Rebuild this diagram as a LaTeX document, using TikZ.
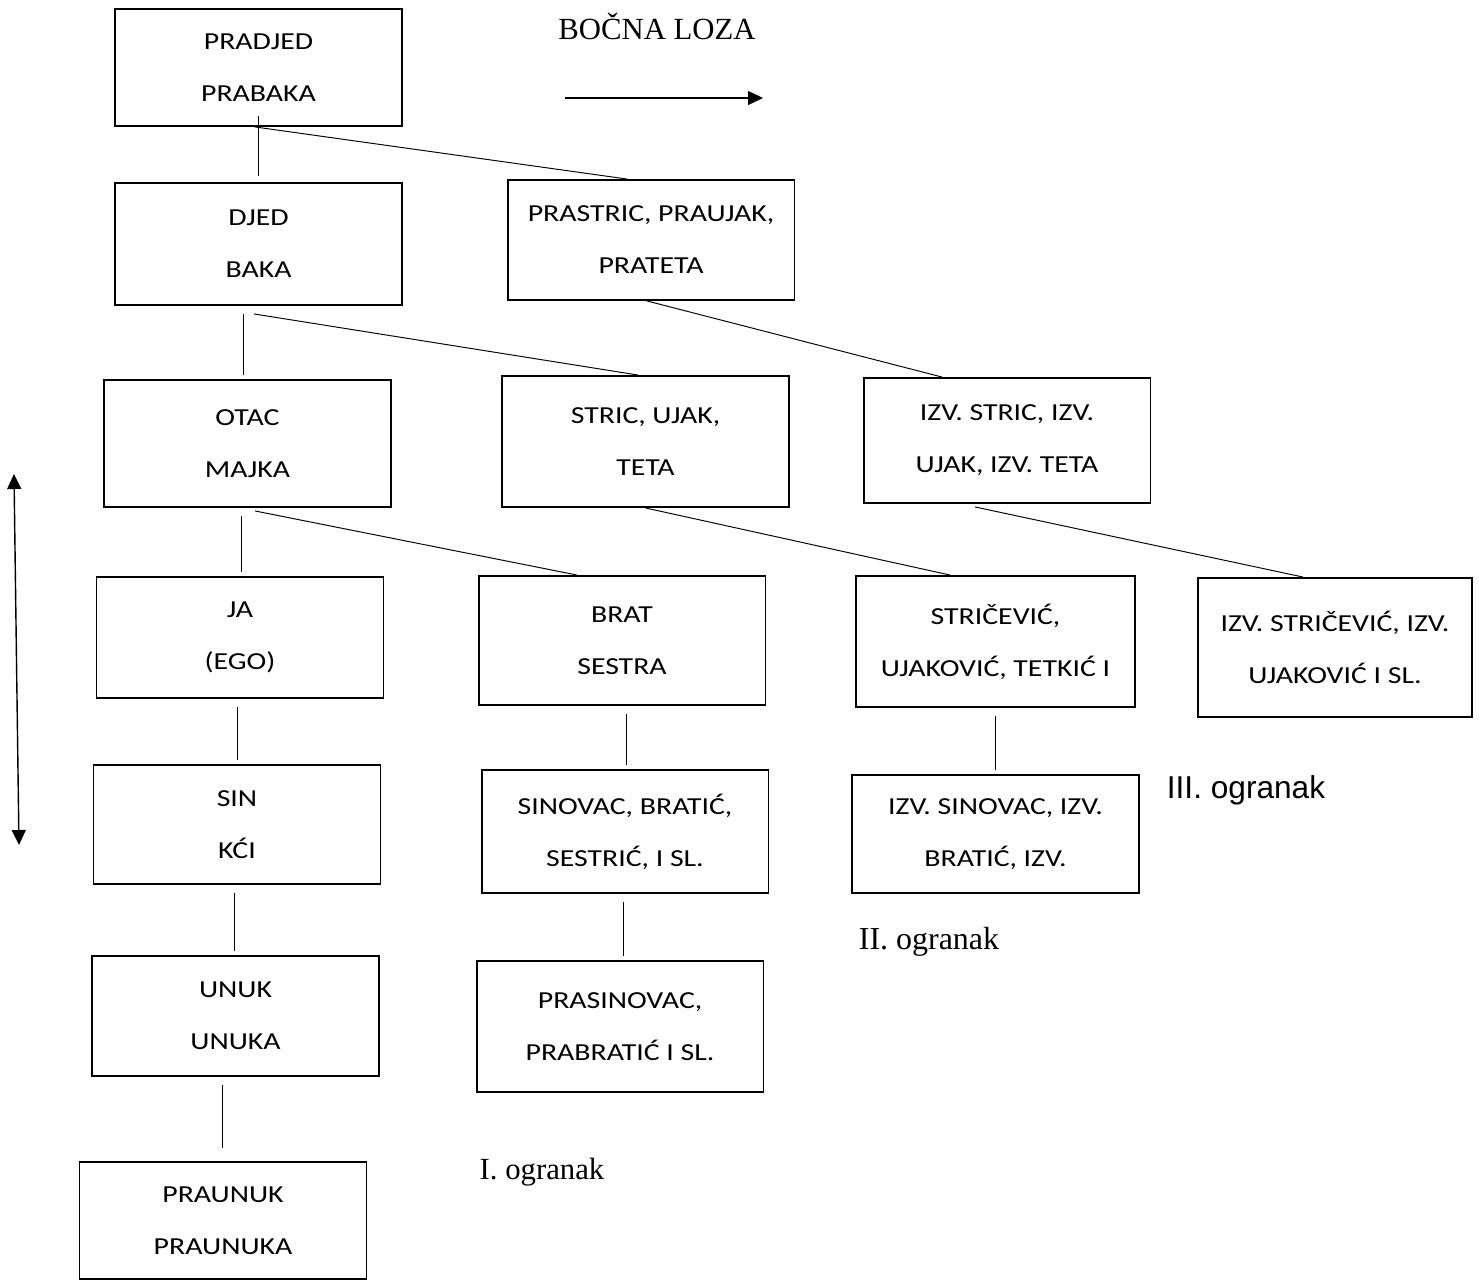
\documentclass[tikz,border=0pt]{standalone}
\usepackage{fontspec}
\setmainfont{Liberation Serif}
\newfontfamily\carlito[FakeStretch=1.22]{Carlito}
\newfontfamily\arialfont{Liberation Sans}
\usepackage{tikz}
\usetikzlibrary{arrows.meta, positioning, calc}

\begin{document}
\begin{tikzpicture}[
        x=0.02cm, y=-0.02cm,
        % STYLES
        kin/.style={rectangle, draw=black, line width=1.1pt, minimum width=5.74cm, minimum height=2.4cm, align=center, inner sep=0pt, font=\carlito\fontsize{13.9}{29.6}\selectfont},
        label_serif/.style={font=\fontsize{17.5}{20}\selectfont},
        label_sans/.style={font=\arialfont\fontsize{18}{21}\selectfont},
        % LINES
        vline/.style={line width=0.5pt, shorten <=0.16cm, shorten >=0.08cm},
        sline/.style={line width=0.55pt},
        loza_arrow/.style={-{Triangle[width=0.28cm, length=0.3cm]}, line width=0.8pt}
    ]
    \useasboundingbox (0,0) rectangle (1479,1280);

    % ===================================
    % 1. Direct line (ego's ancestors and descendants)
    % ===================================
    \node[kin, minimum height=2.34cm] (pradjed) at (258.5, 67.5) {PRADJED\\PRABAKA};
    \node[kin, minimum height=2.44cm] (djed) at (258.5, 244) {DJED\\BAKA};
    \node[kin, minimum height=2.54cm] (otac) at (247.5, 443.5) {OTAC\\MAJKA};
    \node[kin, minimum height=2.42cm] (ja) at (240, 637.5) {JA\\(EGO)};
    \node[kin, minimum height=2.38cm] (sin) at (237, 824.5) {SIN\\KĆI};
    \node[kin, minimum height=2.40cm] (unuk) at (235.5, 1016) {UNUK\\UNUKA};
    \node[kin, minimum height=2.34cm] (praunuk) at (223, 1220.5) {PRAUNUK\\PRAUNUKA};

    % --- Side branches ---
    \node[kin, minimum height=2.40cm] (prastric) at (651, 240) {PRASTRIC, PRAUJAK,\\PRATETA};
    \node[kin, minimum height=2.62cm] (stric) at (645.5, 441.5) {STRIC, UJAK,\\TETA};
    \node[kin, minimum height=2.50cm] (izvstric) at (1007, 440.5) {IZV. STRIC, IZV.\\UJAK, IZV. TETA};
    \node[kin, minimum height=2.58cm] (brat) at (622, 640.5) {BRAT\\SESTRA};
    \node[kin, minimum height=2.62cm, minimum width=5.58cm] (stricevic) at (995.5, 641.5) {STRIČEVIĆ,\\UJAKOVIĆ, TETKIĆ I};
    \node[kin, minimum height=2.78cm, minimum width=5.48cm] (izvstricevic) at (1335, 647.5) {IZV. STRIČEVIĆ, IZV.\\UJAKOVIĆ I SL.};
    \node[kin, minimum height=2.46cm] (sinovac) at (625, 831.5) {SINOVAC, BRATIĆ,\\SESTRIĆ, I SL.};
    \node[kin, minimum height=2.36cm] (izvsinovac) at (995.5, 834) {IZV. SINOVAC, IZV.\\BRATIĆ, IZV.};
    \node[kin, minimum height=2.62cm] (prasinovac) at (620, 1026.5) {PRASINOVAC,\\PRABRATIĆ I SL.};

    % --- Labels ---
    \node[label_serif] (bocna) at (657, 26) {BOČNA LOZA};
    \node[label_serif] (ogr1) at (542, 1172) {I. ogranak};
    \node[label_serif, font=\fontsize{18.2}{20}\selectfont] (ogr2) at (929, 942) {II. ogranak};
    \node[label_sans] (ogr3) at (1246, 790) {III. ogranak};

    % ===================================
    % 2. Connectors
    % ===================================
    % vertical links
    \draw[sline] ([yshift=0.22cm]pradjed.south) -- ([yshift=0.12cm]pradjed.south |- djed.north);
    \draw[vline] ([xshift=-0.31cm]djed.south) -- ([xshift=-0.31cm]djed.south |- otac.north);
    \draw[vline] ([xshift=-0.13cm]otac.south) -- ([xshift=-0.13cm]otac.south |- ja.north);
    \draw[vline] ([xshift=-0.06cm]ja.south) -- ([xshift=-0.06cm]ja.south |- sin.north);
    \draw[vline] ([xshift=-0.06cm]sin.south) -- ([xshift=-0.06cm]sin.south |- unuk.north);
    \draw[vline, shorten >=0.26cm] ([xshift=-0.27cm]unuk.south) -- ([xshift=-0.27cm]unuk.south |- praunuk.north);
    \draw[vline] ([xshift=0.08cm]brat.south) -- ([xshift=0.08cm]brat.south |- sinovac.north);
    \draw[vline] ([xshift=-0.04cm]sinovac.south) -- ([xshift=-0.04cm]sinovac.south |- prasinovac.north);
    \draw[vline] (stricevic.south) -- (stricevic.south |- izvsinovac.north);

    % slanted links to the side branches
    \draw[sline] ([xshift=-0.07cm]pradjed.south) -- ([xshift=-0.48cm]prastric.north);
    \draw[sline] ([xshift=-0.09cm, yshift=-0.16cm]djed.south) -- ([xshift=-0.15cm]stric.north);
    \draw[sline] ([xshift=-0.08cm]prastric.south) -- ([xshift=-1.3cm]izvstric.north);
    \draw[sline] ([xshift=0.15cm, yshift=-0.06cm]otac.south) -- ([xshift=-0.9cm]brat.north);
    \draw[sline] (stric.south) -- ([xshift=-0.91cm]stricevic.north);
    \draw[sline] ([xshift=-0.64cm, yshift=-0.06cm]izvstric.south) -- ([xshift=-0.64cm]izvstricevic.north);

    % ===================================
    % 3. Direction arrows
    % ===================================
    \coordinate (bocna_from) at (565, 98);
    \coordinate (bocna_to) at (763, 98);
    \draw[loza_arrow] (bocna_from) -- (bocna_to);

    \coordinate (prava_top) at (14, 474);
    \coordinate (prava_bottom) at (19, 845);
    \draw[loza_arrow, {Triangle[width=0.28cm, length=0.3cm]}-{Triangle[width=0.28cm, length=0.3cm]}] (prava_top) -- (prava_bottom);

\end{tikzpicture}
\end{document}
